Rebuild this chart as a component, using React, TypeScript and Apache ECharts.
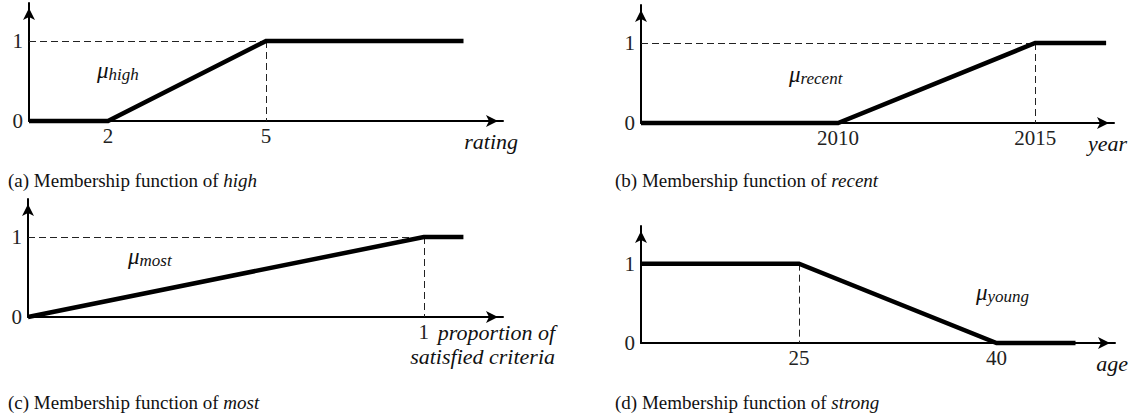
import React, { useEffect, useRef } from "react";
import * as echarts from "echarts";

// ---- data ----
const ratingX = [0.5, 2, 5, 8.75];
const highY = [0, 0, 1, 1];
const ratingTicks = [2, 5];
const ratingRange = [0.5, 9.5];

const yearX = [2005, 2010, 2015, 2016.8];
const recentY = [0, 0, 1, 1];
const yearTicks = [2010, 2015];
const yearRange = [2005, 2017];

const proportionX = [0, 1, 1.1];
const mostY = [0, 1, 1];
const proportionTicks = [1];
const proportionRange = [0, 1.2];

const ageX = [13, 25, 40, 46];
const youngY = [1, 1, 0, 0];
const ageTicks = [25, 40];
const ageRange = [13, 49];

const membershipTicks = [0, 1];
const membershipRange = [0, 1.475];

const axisNames = ["rating", "year", "proportion of\nsatisfied criteria", "age"];
const muSubs = ["high", "recent", "most", "young"];
const captionLabels = ["(a)", "(b)", "(c)", "(d)"];
const captionWords = ["high", "recent", "most", "strong"];

const SERIF = "Liberation Serif";

export default function App() {
  const ref = useRef<HTMLDivElement>(null);
  useEffect(() => {
    if (!ref.current) return;
    const chart = echarts.init(ref.current, null, { renderer: "svg" });

    const grids = [
      { left: 29, top: 3, width: 474, height: 118 },
      { left: 641, top: 5, width: 473, height: 118 },
      { left: 28, top: 199, width: 475, height: 118 },
      { left: 641, top: 226, width: 474, height: 117 },
    ];
    const xs = [ratingX, yearX, proportionX, ageX];
    const ys = [highY, recentY, mostY, youngY];
    const ticks = [ratingTicks, yearTicks, proportionTicks, ageTicks];
    const ranges = [ratingRange, yearRange, proportionRange, ageRange];
    const nameGaps = [15, 13, 52, 13];

    const axisLine = {
      show: true,
      onZero: false,
      symbol: ["none", "arrow"],
      symbolSize: [9, 12],
      symbolOffset: [0, -5],
      lineStyle: { color: "#000", width: 2 },
    };
    const labelStyle = { fontFamily: SERIF, fontSize: 21, color: "#222" };
    const plain = (v: number) => String(v);

    const xAxis = grids.map((_, i) => ({
      type: "value",
      gridIndex: i,
      min: ranges[i][0],
      max: ranges[i][1],
      axisLine,
      axisTick: { show: false },
      splitLine: { show: false },
      axisLabel: { ...labelStyle, margin: 4, customValues: ticks[i], formatter: plain },
      name: axisNames[i],
      nameLocation: "end",
      nameGap: nameGaps[i],
      nameMoveOverlap: false,
      nameTextStyle: {
        fontFamily: SERIF,
        fontStyle: "italic",
        fontSize: 22,
        color: "#111",
        align: "right",
        verticalAlign: "top",
        lineHeight: 24,
        padding: [i === 2 ? 3 : 8, 0, 0, 0],
      },
    }));
    const yAxis = grids.map((_, i) => ({
      type: "value",
      gridIndex: i,
      min: membershipRange[0],
      max: membershipRange[1],
      axisLine,
      axisTick: { show: false },
      splitLine: { show: false },
      axisLabel: { ...labelStyle, margin: 6, customValues: membershipTicks, formatter: plain },
    }));

    const dashStyle = { type: [7, 4], color: "#222", width: 1 };
    const dashed = [
      [
        [{ coord: [ratingRange[0], highY[2]] }, { coord: [ratingX[2], highY[2]] }],
        [{ coord: [ratingX[2], highY[2]] }, { coord: [ratingX[2], highY[0]] }],
      ],
      [
        [{ coord: [yearRange[0], recentY[2]] }, { coord: [yearX[2], recentY[2]] }],
        [{ coord: [yearX[2], recentY[2]] }, { coord: [yearX[2], recentY[0]] }],
      ],
      [
        [{ coord: [proportionRange[0], mostY[1]] }, { coord: [proportionX[1], mostY[1]] }],
        [{ coord: [proportionX[1], mostY[1]] }, { coord: [proportionX[1], mostY[0]] }],
      ],
      [[{ coord: [ageX[1], youngY[1]] }, { coord: [ageX[1], youngY[2]] }]],
    ];

    const series = grids.map((_, i) => ({
      type: "line",
      xAxisIndex: i,
      yAxisIndex: i,
      data: xs[i].map((x, k) => [x, ys[i][k]]),
      showSymbol: false,
      clip: false,
      z: 5,
      lineStyle: { color: "#000", width: 4.5, join: "miter", cap: "butt" },
      markLine: {
        silent: true,
        symbol: "none",
        label: { show: false },
        lineStyle: dashStyle,
        z: 1,
        data: dashed[i],
      },
    }));

    const muPos = [
      [97, 70],
      [789, 74],
      [128, 256],
      [976, 292],
    ];
    const muRich = {
      mu: { fontFamily: SERIF, fontStyle: "italic", fontSize: 23, fill: "#111" },
      sub: { fontFamily: SERIF, fontStyle: "italic", fontSize: 17, fill: "#111", padding: [9, 0, 0, 0] },
    };
    const muTexts = muPos.map((p, i) => ({
      type: "text",
      x: p[0],
      y: p[1],
      style: {
        text: `{mu|\u03bc}{sub|${muSubs[i]}}`,
        rich: muRich,
        textVerticalAlign: "middle",
      },
    }));

    const capPos = [
      [8, 180],
      [615, 180],
      [8, 402],
      [615, 402],
    ];
    const capRich = {
      n: { fontFamily: SERIF, fontSize: 19, fill: "#111" },
      i: { fontFamily: SERIF, fontSize: 19, fontStyle: "italic", fill: "#111" },
    };
    const captions = capPos.map((p, i) => ({
      type: "text",
      x: p[0],
      y: p[1],
      style: {
        text: `{n|${captionLabels[i]} Membership function of }{i|${captionWords[i]}}`,
        rich: capRich,
        textVerticalAlign: "middle",
      },
    }));

    chart.setOption({
      animation: false,
      backgroundColor: "#fff",
      grid: grids,
      xAxis,
      yAxis,
      series,
      graphic: [...muTexts, ...captions],
    });
    return () => chart.dispose();
  }, []);
  return (
    <div
      ref={ref}
      style={{ position: "fixed", left: 0, top: 0, width: 1133, height: 420, background: "#fff" }}
    />
  );
}
